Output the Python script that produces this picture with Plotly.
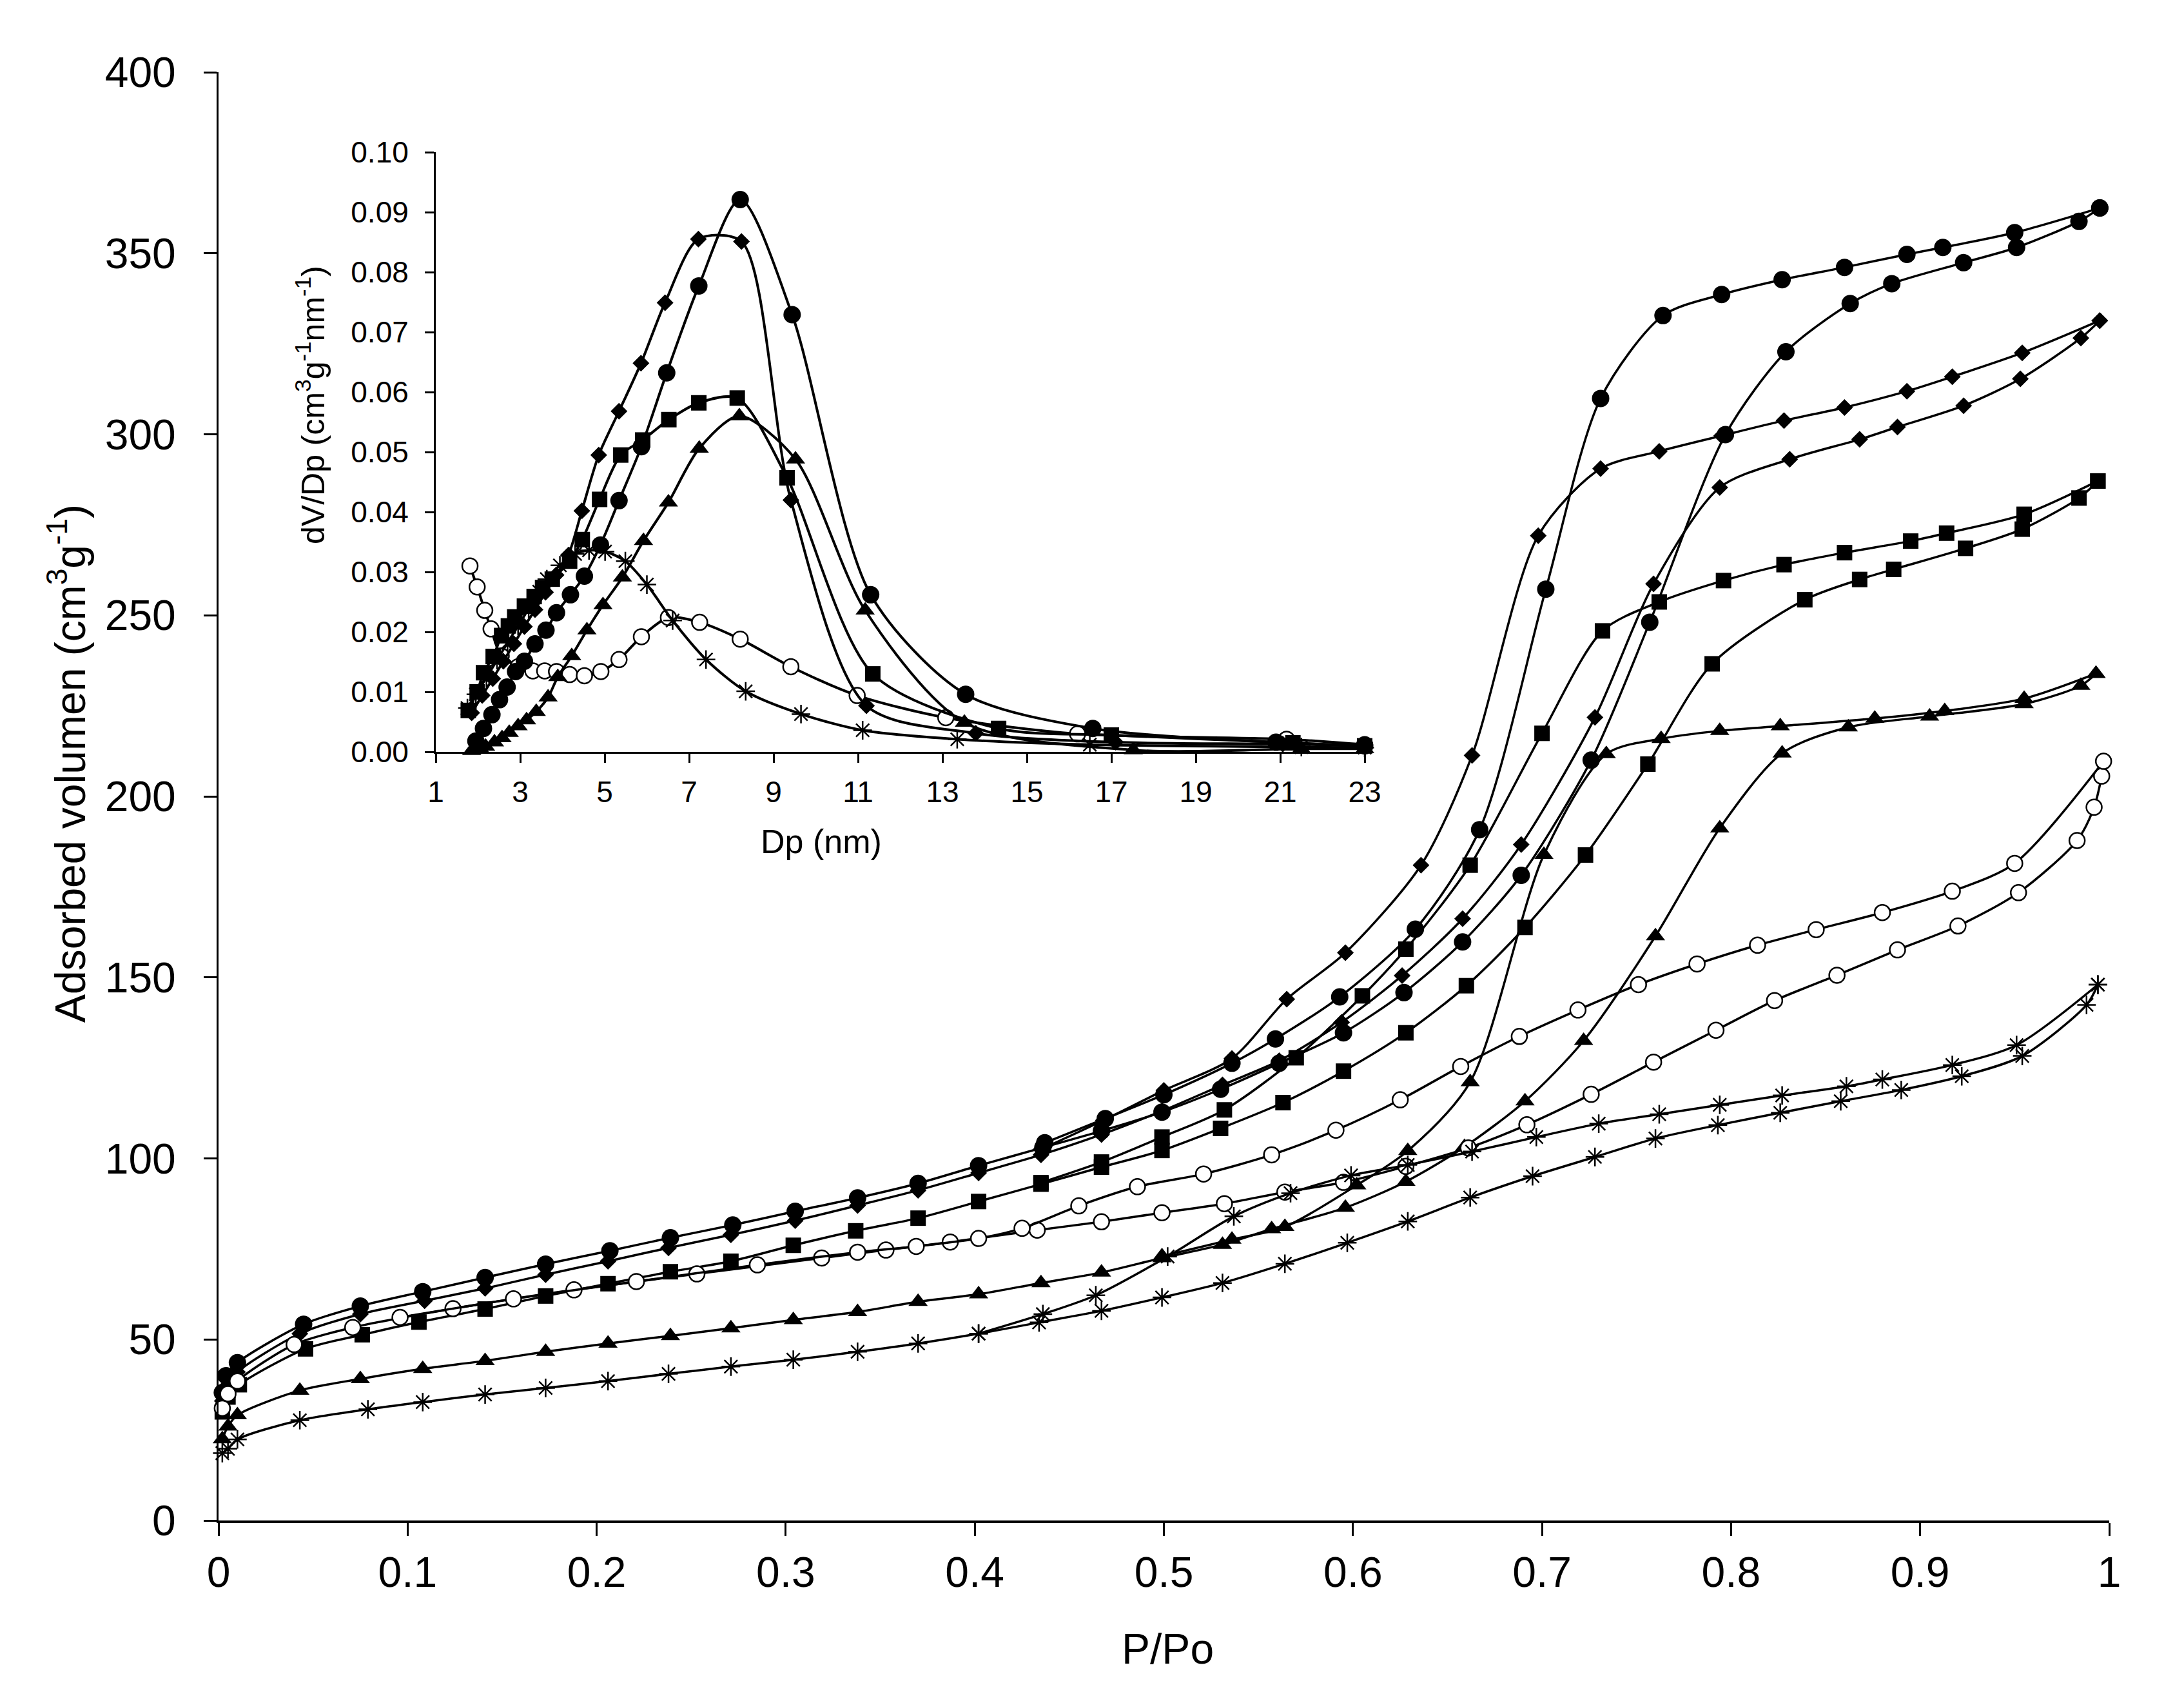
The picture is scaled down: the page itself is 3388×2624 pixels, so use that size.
import plotly.graph_objects as go

# ---- main plot: N2 isotherms, P/Po vs adsorbed volume (ads = adsorption, des = desorption) ----
p_ads_circle = [0.002, 0.004, 0.010, 0.045, 0.075, 0.108, 0.141, 0.173, 0.207, 0.239, 0.272, 0.305, 0.338, 0.370,
                0.402, 0.436, 0.467, 0.499, 0.530, 0.561, 0.595, 0.627, 0.658, 0.689, 0.726, 0.757, 0.797, 0.829,
                0.863, 0.885, 0.923, 0.951, 0.984, 0.995]
v_ads_circle = [35.3, 40.0, 43.6, 54.2, 59.2, 63.2, 67.1, 70.8, 74.5, 78.1, 81.6, 85.4, 89.1, 93.1,
                98.0, 103.0, 107.6, 112.8, 119.1, 126.3, 134.7, 145.8, 159.8, 178.2, 210.0, 248.1, 299.9, 322.8,
                336.1, 341.6, 347.4, 351.6, 358.8, 362.5]
p_des_circle = [0.995, 0.950, 0.912, 0.893, 0.860, 0.827, 0.795, 0.764, 0.731, 0.702, 0.667, 0.633, 0.593, 0.559,
                0.536, 0.500, 0.469, 0.437]
v_des_circle = [362.5, 355.7, 351.6, 349.7, 346.1, 342.7, 338.6, 332.8, 309.9, 257.2, 190.8, 163.3, 144.6, 133.0,
                126.3, 117.6, 111.0, 104.3]

p_ads_diamond = [0.002, 0.005, 0.010, 0.043, 0.075, 0.109, 0.141, 0.173, 0.206, 0.238, 0.271, 0.305, 0.338, 0.370,
                 0.402, 0.435, 0.467, 0.499, 0.531, 0.561, 0.594, 0.626, 0.658, 0.689, 0.728, 0.759, 0.794, 0.831,
                 0.868, 0.888, 0.923, 0.953, 0.985, 0.995]
v_ads_diamond = [33.0, 37.5, 41.0, 51.6, 57.0, 60.7, 64.1, 67.9, 71.6, 75.3, 78.9, 82.8, 87.0, 91.2,
                 96.0, 101.0, 106.6, 113.1, 120.3, 127.0, 137.6, 150.5, 166.2, 186.7, 221.8, 258.7, 285.3, 293.1,
                 298.6, 302.0, 307.9, 315.3, 326.6, 331.4]
p_des_diamond = [0.995, 0.954, 0.917, 0.893, 0.860, 0.828, 0.795, 0.762, 0.731, 0.698, 0.663, 0.636, 0.596, 0.565,
                 0.536, 0.500, 0.468, 0.435]
v_des_diamond = [331.4, 322.5, 315.9, 311.9, 307.4, 303.8, 299.6, 295.3, 290.5, 272.0, 211.3, 181.0, 156.8, 144.0,
                 127.6, 118.8, 110.5, 102.5]

p_ads_square = [0.002, 0.005, 0.011, 0.046, 0.076, 0.106, 0.141, 0.173, 0.206, 0.239, 0.271, 0.304, 0.337, 0.370,
                0.402, 0.435, 0.467, 0.499, 0.530, 0.563, 0.595, 0.628, 0.660, 0.691, 0.723, 0.756, 0.790, 0.839,
                0.868, 0.886, 0.924, 0.954, 0.984, 0.994]
v_ads_square = [30.0, 34.1, 37.5, 47.4, 51.3, 54.8, 58.4, 62.0, 65.4, 68.7, 71.6, 76.0, 80.0, 83.5,
                88.1, 92.9, 97.6, 102.2, 108.3, 115.4, 124.1, 134.7, 147.7, 163.8, 183.8, 208.9, 236.6, 254.3,
                259.9, 262.7, 268.5, 273.8, 282.4, 287.1]
p_des_square = [0.994, 0.955, 0.914, 0.895, 0.860, 0.828, 0.796, 0.762, 0.732, 0.700, 0.662, 0.628, 0.605, 0.570,
                0.532, 0.499, 0.467, 0.435]
v_des_square = [287.1, 277.9, 272.7, 270.5, 267.3, 264.0, 259.6, 253.7, 245.7, 217.4, 181.0, 157.8, 144.9, 127.8,
                113.4, 105.9, 99.0, 93.3]

p_ads_triangle = [0.002, 0.005, 0.010, 0.043, 0.075, 0.108, 0.141, 0.173, 0.206, 0.239, 0.271, 0.304, 0.338, 0.370,
                  0.402, 0.435, 0.467, 0.499, 0.531, 0.557, 0.596, 0.628, 0.659, 0.691, 0.722, 0.760, 0.794, 0.827,
                  0.862, 0.905, 0.955, 0.985, 0.993]
v_ads_triangle = [22.5, 26.0, 29.1, 35.9, 39.1, 41.9, 44.1, 46.6, 48.9, 51.0, 53.1, 55.4, 57.6, 60.4,
                  62.5, 65.6, 68.5, 72.5, 76.2, 80.5, 86.4, 93.6, 103.2, 115.8, 132.5, 161.4, 191.2, 211.9,
                  219.1, 222.1, 225.5, 230.6, 233.9]
p_des_triangle = [0.993, 0.955, 0.913, 0.876, 0.826, 0.794, 0.763, 0.734, 0.701, 0.662, 0.629, 0.602, 0.564, 0.536,
                  0.499]
v_des_triangle = [233.9, 227.0, 223.6, 221.5, 219.4, 218.1, 215.9, 211.7, 183.9, 121.1, 102.1, 92.6, 81.1, 77.6,
                  73.0]

p_ads_open = [0.002, 0.005, 0.010, 0.040, 0.071, 0.124, 0.188, 0.253, 0.319, 0.353, 0.387, 0.433, 0.467, 0.499,
              0.532, 0.564, 0.595, 0.628, 0.661, 0.692, 0.726, 0.759, 0.792, 0.823, 0.856, 0.888, 0.920, 0.952,
              0.983, 0.992, 0.996]
v_ads_open = [31.0, 35.0, 38.5, 48.6, 53.3, 58.5, 63.7, 68.1, 72.5, 74.7, 76.9, 80.2, 82.5, 85.0,
              87.5, 90.7, 93.4, 97.8, 102.9, 109.3, 117.7, 126.6, 135.4, 143.6, 150.6, 157.6, 164.2, 173.4,
              187.8, 197.0, 205.6]
p_des_open = [0.997, 0.950, 0.917, 0.880, 0.845, 0.814, 0.782, 0.751, 0.719, 0.688, 0.657, 0.625, 0.591, 0.557,
              0.521, 0.486, 0.455, 0.425, 0.402, 0.369, 0.338, 0.285, 0.221, 0.156, 0.096]
v_des_open = [209.7, 181.5, 173.8, 167.9, 163.2, 158.9, 153.7, 148.0, 141.0, 133.7, 125.4, 116.2, 107.8, 101.0,
              95.7, 92.2, 86.9, 80.7, 77.9, 75.7, 74.1, 70.6, 66.0, 61.2, 56.1]

p_ads_star = [0.002, 0.005, 0.010, 0.043, 0.079, 0.108, 0.141, 0.173, 0.206, 0.238, 0.271, 0.304, 0.338, 0.370,
              0.402, 0.434, 0.467, 0.499, 0.531, 0.564, 0.597, 0.629, 0.662, 0.695, 0.728, 0.760, 0.793, 0.826,
              0.858, 0.890, 0.922, 0.954, 0.988, 0.994]
v_ads_star = [18.6, 19.8, 22.4, 27.7, 30.7, 32.7, 34.8, 36.6, 38.5, 40.5, 42.5, 44.4, 46.6, 48.9,
              51.6, 54.7, 57.9, 61.6, 65.6, 70.9, 76.7, 82.6, 89.2, 95.1, 100.4, 105.5, 109.2, 112.6,
              115.8, 118.9, 122.7, 128.3, 142.4, 148.0]
p_des_star = [0.994, 0.951, 0.917, 0.880, 0.861, 0.827, 0.794, 0.762, 0.730, 0.697, 0.663, 0.629, 0.599, 0.567,
              0.537, 0.502, 0.464, 0.436, 0.402]
v_des_star = [148.0, 131.3, 125.8, 121.8, 119.9, 117.4, 114.8, 112.2, 109.6, 105.9, 101.9, 98.2, 95.3, 90.4,
              84.0, 72.9, 62.2, 57.0, 51.6]

# ---- inset: pore size distribution, Dp (nm) vs dV/Dp ----
dp_circle = [1.95, 2.13, 2.33, 2.51, 2.69, 2.89, 3.10, 3.35, 3.61, 3.86, 4.19, 4.52, 4.90, 5.34, 5.87, 6.47,
             7.23, 8.21, 9.44, 11.30, 13.55, 16.56, 20.9, 23.0]
dv_circle = [0.0018, 0.0039, 0.0062, 0.0087, 0.0108, 0.0134, 0.0151, 0.0180, 0.0203, 0.0232, 0.0262, 0.0293,
             0.0345, 0.0419, 0.0509, 0.0632, 0.0777, 0.0921, 0.0729, 0.0262, 0.0096, 0.0039, 0.0016, 0.0010]

dp_diamond = [1.85, 2.10, 2.35, 2.60, 2.85, 3.10, 3.35, 3.60, 3.85, 4.14, 4.46, 4.86, 5.34, 5.86, 6.43, 7.22,
              8.24, 9.41, 11.2, 13.79, 17.1, 21.06, 23.0]
dv_diamond = [0.0065, 0.0094, 0.0122, 0.0151, 0.0180, 0.0209, 0.0237, 0.0266, 0.0295, 0.0328, 0.0402, 0.0495,
              0.0568, 0.0648, 0.0749, 0.0855, 0.0851, 0.0420, 0.0077, 0.0031, 0.0016, 0.0013, 0.0010]

dp_square = [1.77, 1.98, 2.13, 2.36, 2.56, 2.72, 2.87, 3.10, 3.33, 3.53, 3.76, 4.17, 4.47, 4.88, 5.38, 5.90,
             6.52, 7.23, 8.14, 9.32, 11.35, 14.33, 17.0, 21.3, 23.0]
dv_square = [0.0069, 0.0100, 0.0132, 0.0159, 0.0194, 0.0210, 0.0225, 0.0243, 0.0259, 0.0274, 0.0288, 0.0318,
             0.0354, 0.0421, 0.0495, 0.0520, 0.0554, 0.0582, 0.0590, 0.0457, 0.0130, 0.0039, 0.0028, 0.0015, 0.0010]

dp_triangle = [1.85, 2.05, 2.18, 2.39, 2.57, 2.74, 2.95, 3.15, 3.38, 3.66, 3.89, 4.22, 4.58, 4.96, 5.42, 5.92,
               6.51, 7.24, 8.19, 9.52, 11.17, 13.52, 17.52, 21.5, 23.0]
dv_triangle = [0.0002, 0.0005, 0.0009, 0.0016, 0.0023, 0.0032, 0.0043, 0.0053, 0.0067, 0.0091, 0.0125, 0.0160,
               0.0203, 0.0245, 0.0291, 0.0352, 0.0416, 0.0506, 0.0560, 0.0488, 0.0236, 0.0049, 0.0003, 0.0005, 0.0005]

dp_open = [1.81, 1.98, 2.16, 2.31, 2.55, 2.95, 3.30, 3.58, 3.86, 4.17, 4.52, 4.91, 5.34, 5.87, 6.51, 7.25,
           8.21, 9.41, 10.98, 13.08, 16.2, 21.15, 23.0]
dv_open = [0.0310, 0.0275, 0.0236, 0.0205, 0.0160, 0.0142, 0.0135, 0.0135, 0.0134, 0.0129, 0.0127, 0.0134,
           0.0154, 0.0192, 0.0224, 0.0216, 0.0188, 0.0142, 0.0094, 0.0057, 0.0030, 0.0021, 0.0012]

dp_star = [1.75, 1.95, 2.20, 2.45, 2.70, 2.95, 3.20, 3.45, 3.63, 3.94, 4.30, 4.63, 5.01, 5.49, 6.00, 6.61,
           7.40, 8.34, 9.65, 11.11, 13.35, 16.49, 21.5, 23.0]
dv_star = [0.0073, 0.0096, 0.0124, 0.0153, 0.0182, 0.0210, 0.0239, 0.0267, 0.0288, 0.0311, 0.0330, 0.0336,
           0.0334, 0.0318, 0.0279, 0.0219, 0.0154, 0.0101, 0.0063, 0.0036, 0.0021, 0.0012, 0.0008, 0.0007]

# page body has an 8px margin, so the figure is 16px smaller than the window
W, H, OFF = 3372, 2608, 8


def fx(px):
    return (px - OFF) / W


def fy(px):
    return 1 - (px - OFF) / H


FONT = "Arial, Liberation Sans, sans-serif"

styles = {
    "circle": dict(symbol="circle", size=27, color="black", line=dict(width=0)),
    "diamond": dict(symbol="diamond", size=20, color="black", line=dict(width=0)),
    "square": dict(symbol="square", size=24, color="black", line=dict(width=0)),
    "triangle": dict(symbol="triangle-up", size=26, color="black", line=dict(width=0)),
    "open": dict(symbol="circle", size=24, color="white", line=dict(width=2.5, color="black")),
    "star": dict(symbol="asterisk-open", size=24, color="black", line=dict(width=2.5, color="black")),
}

main_series = [
    ("circle", p_ads_circle, v_ads_circle, p_des_circle, v_des_circle),
    ("diamond", p_ads_diamond, v_ads_diamond, p_des_diamond, v_des_diamond),
    ("square", p_ads_square, v_ads_square, p_des_square, v_des_square),
    ("triangle", p_ads_triangle, v_ads_triangle, p_des_triangle, v_des_triangle),
    ("open", p_ads_open, v_ads_open, p_des_open, v_des_open),
    ("star", p_ads_star, v_ads_star, p_des_star, v_des_star),
]

inset_series = [
    ("open", dp_open, dv_open),
    ("star", dp_star, dv_star),
    ("triangle", dp_triangle, dv_triangle),
    ("square", dp_square, dv_square),
    ("diamond", dp_diamond, dv_diamond),
    ("circle", dp_circle, dv_circle),
]

fig = go.Figure()

for name, pa, va, pd_, vd in main_series:
    for xs, ys in ((pa, va), (pd_, vd)):
        fig.add_trace(go.Scatter(
            x=xs, y=ys, mode="lines+markers", cliponaxis=False,
            line=dict(color="black", width=3.5, shape="spline", smoothing=0.8),
            marker=styles[name], showlegend=False))

for name, xs, ys in inset_series:
    fig.add_trace(go.Scatter(
        x=xs, y=ys, mode="lines+markers", xaxis="x2", yaxis="y2", cliponaxis=False,
        line=dict(color="black", width=4, shape="spline", smoothing=0.8),
        marker=styles[name], showlegend=False))

axis_common = dict(showgrid=False, zeroline=False, showline=True, linecolor="black",
                   ticks="outside", tickcolor="black", mirror=False, automargin=False)

fig.update_layout(
    width=W, height=H,
    margin=dict(l=0, r=0, t=0, b=0, autoexpand=False),
    paper_bgcolor="white", plot_bgcolor="rgba(0,0,0,0)",
    font=dict(family=FONT, color="black"),
    xaxis=dict(axis_common, domain=[fx(339), fx(3272)], range=[0, 1], dtick=0.1, tick0=0,
               linewidth=3.5, ticklen=20, tickwidth=2.5, tickfont=dict(size=66),
               ticklabelstandoff=0, anchor="y"),
    yaxis=dict(axis_common, domain=[fy(2358), fy(112)], range=[0, 400], dtick=50, tick0=0,
               linewidth=3, ticklen=20, tickwidth=2.5, tickfont=dict(size=66),
               ticklabelstandoff=30, anchor="x"),
    xaxis2=dict(axis_common, domain=[fx(676), fx(2117)], range=[1, 23], dtick=2, tick0=1,
                linewidth=3, ticklen=14, tickwidth=2.5, tickfont=dict(size=46),
                ticklabelstandoff=6, anchor="y2"),
    yaxis2=dict(axis_common, domain=[fy(1166), fy(236)], range=[0, 0.10], dtick=0.01, tick0=0,
                tickformat=".2f", linewidth=3, ticklen=14, tickwidth=2.5, tickfont=dict(size=46),
                ticklabelstandoff=16, anchor="x2"),
    annotations=[
        dict(text="Adsorbed volumen (cm<sup>3</sup>g<sup>-1</sup>)", textangle=-90,
             x=fx(104), y=fy(1184), xref="paper", yref="paper", showarrow=False,
             xanchor="center", yanchor="middle", font=dict(size=66)),
        dict(text="P/Po", x=fx(1811), y=fy(2557), xref="paper", yref="paper", showarrow=False,
             xanchor="center", yanchor="middle", font=dict(size=66)),
        dict(text="dV/Dp (cm<sup>3</sup>g<sup>-1</sup>nm<sup>-1</sup>)", textangle=-90,
             x=fx(482), y=fy(628), xref="paper", yref="paper", showarrow=False,
             xanchor="center", yanchor="middle", font=dict(size=50)),
        dict(text="Dp (nm)", x=fx(1274), y=fy(1305), xref="paper", yref="paper", showarrow=False,
             xanchor="center", yanchor="middle", font=dict(size=52)),
    ],
)

fig.write_html("out.html")
